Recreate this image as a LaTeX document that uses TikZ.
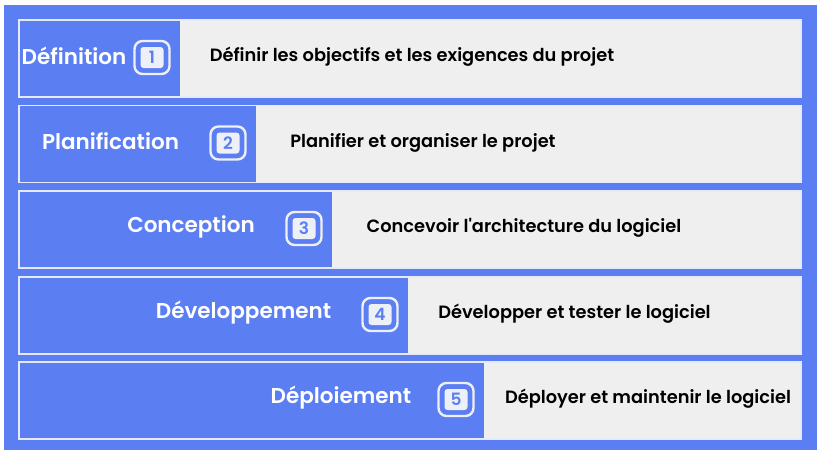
\documentclass[tikz,border=0pt]{standalone}
\usepackage{fontspec}
\setmainfont{Poppins}[BoldFont={* SemiBold}, Ligatures=TeXOff]
\definecolor{bl}{HTML}{5B7FF2}
\definecolor{gr}{HTML}{EFEFEF}
\definecolor{edgec}{HTML}{E6EAF8}
\definecolor{badgefill}{HTML}{EEF0F7}
\tikzset{
  rowbox/.style={fill=gr, draw=none, anchor=north west, minimum width=782pt, minimum height=77pt, inner sep=0pt},
  bluepart/.style={fill=bl, draw=none, anchor=north west, minimum height=77pt, inner sep=0pt},
  rowedge/.style={draw=edgec, line width=1.6pt, fill=none, anchor=north west, minimum width=782pt, minimum height=77pt, inner sep=0pt},
  badgeouter/.style={draw=badgefill, line width=2.4pt, rounded corners=8pt, minimum width=35pt, minimum height=33pt, inner sep=0pt},
  badgeinner/.style={fill=badgefill, rounded corners=3pt, minimum width=23pt, minimum height=21pt, inner sep=0pt, text=bl, font=\fontsize{17}{17}\selectfont\bfseries},
  labeltext/.style={text=white, font=\fontsize{21.5}{22}\selectfont\bfseries, inner sep=0pt},
  desctext/.style={text=black, font=\fontsize{17.8}{19}\selectfont\bfseries, inner sep=0pt}
}
\begin{document}
\begin{tikzpicture}[x=1pt,y=-1pt]
\useasboundingbox (0,0) rectangle (820,453);
\fill[white] (0,0) rectangle (820,453);
\fill[bl] (4,5) rectangle (817,450);
\foreach \i/\t/\b/\lx/\lab/\dx/\desc in {
  1/19/180/74/Définition/412/Définir les objectifs et les exigences du projet,
  2/104.5/256/110.5/Planification/423/Planifier et organiser le projet,
  3/190/332/191/Conception/524/Concevoir l'architecture du logiciel,
  4/276/408/243.5/Développement/574.5/Développer et tester le logiciel,
  5/361/484/341/Déploiement/648/Déployer et maintenir le logiciel}{
  \pgfmathsetmacro\w{\b-18}
  \node[rowbox] (row\i) at (18,\t) {};
  \node[bluepart, minimum width=\w pt] (blue\i) at (18,\t) {};
  \node[rowedge] (edge\i) at (18,\t) {};
  \node[badgeouter] (badge\i) at (\b-28,\t+38.5) {};
  \node[badgeinner] (num\i) at (badge\i.center) {\i};
  \node[labeltext] (lab\i) at (\lx,\t+36.5) {\lab};
  \node[desctext] (desc\i) at (\dx,\t+38) {\desc};
}
\end{tikzpicture}
\end{document}
